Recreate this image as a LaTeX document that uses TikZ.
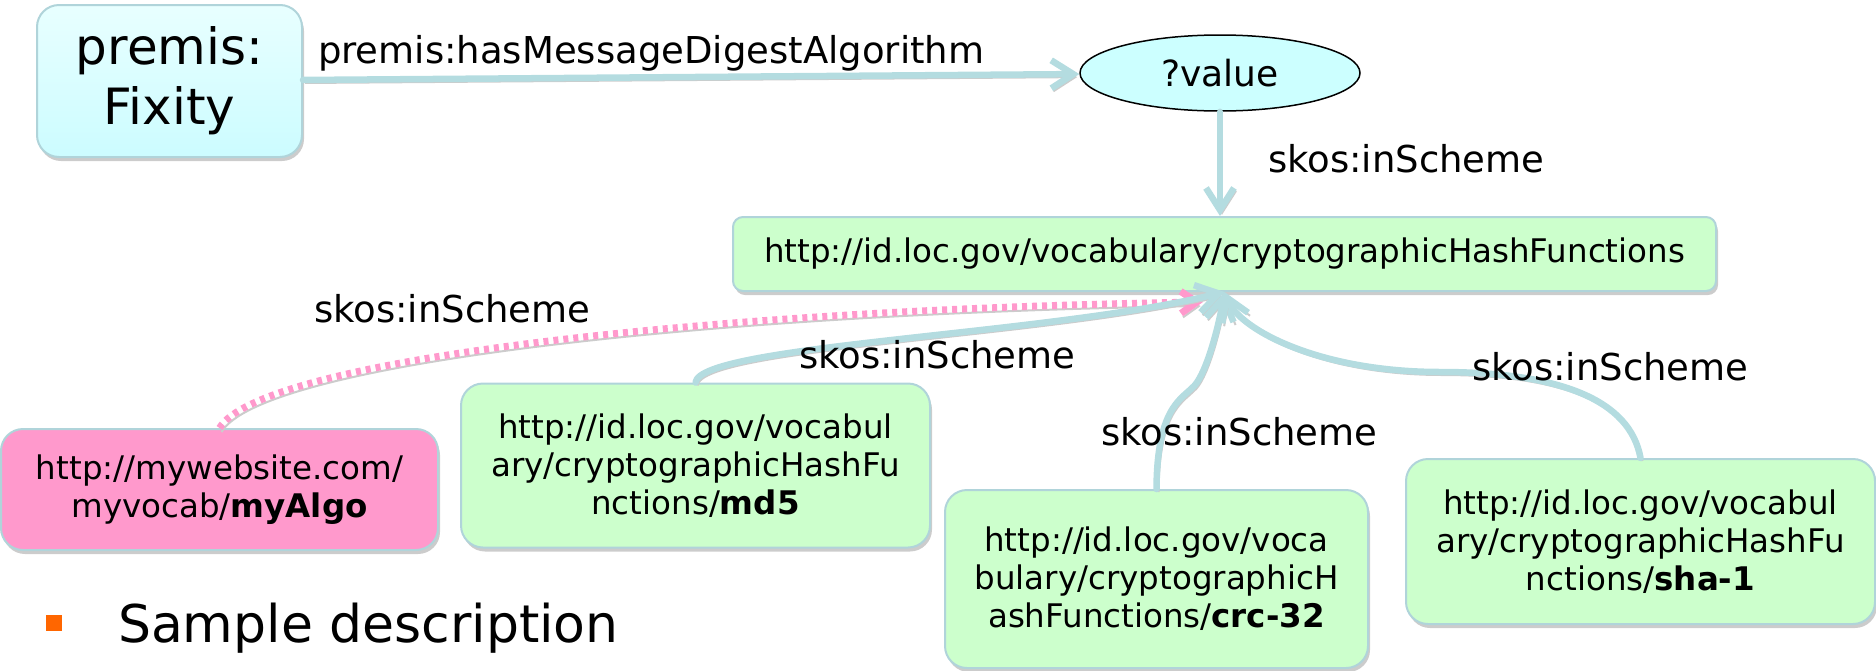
\documentclass[tikz,border=0pt]{standalone}
\usepackage{fontspec}
\setmainfont{DejaVu Sans}
\usepackage{tikz}
\usetikzlibrary{arrows.meta,shapes,shadows,positioning}

\definecolor{linkblue}{HTML}{B4DCE0}
\definecolor{shadowgray}{HTML}{CCCCCC}
\definecolor{edgeblue}{HTML}{B0D4DA}
\definecolor{mint}{HTML}{CCFFCC}
\definecolor{pinkfill}{HTML}{FF99CC}
\definecolor{aquatop}{HTML}{E8FFFF}
\definecolor{aquabot}{HTML}{CCFCFF}
\definecolor{ellfill}{HTML}{CCFFFF}
\definecolor{bulletorange}{HTML}{FF6600}

\begin{document}
\begin{tikzpicture}[x=1pt,y=-1pt,line width=2pt,
  box/.style={rectangle,rounded corners=22pt,draw=edgeblue,fill=mint,align=center,inner sep=0pt,
    font=\fontsize{32.5}{38}\selectfont,
    drop shadow={shadow xshift=2pt,shadow yshift=-4pt,fill=shadowgray,opacity=1}},
  lbl/.style={anchor=base west,inner sep=0pt,font=\fontsize{37}{44}\selectfont},
  link/.style={draw=linkblue,line width=6.5pt,line cap=round,line join=round,
    -{Straight Barb[length=22pt,width=28pt]},
    preaction={draw=shadowgray,transform canvas={shift={(2pt,-3pt)}}}},
  pinklink/.style={draw=pinkfill,line width=7pt,dash pattern=on 5pt off 5pt,
    -{Straight Barb[length=16pt,width=22pt]},
    preaction={draw=shadowgray,transform canvas={shift={(2pt,-4pt)}}}}]

        \useasboundingbox (0,0) rectangle (1876,670);

        % top row
        \node[box,top color=aquatop,bottom color=aquabot,minimum width=265pt,minimum height=152pt,
          font=\fontsize{50}{60}\selectfont] (fixity) at (169.5,81) {premis:\\Fixity};
        \node[ellipse,draw=black,line width=1.5pt,fill=ellfill,minimum width=280pt,minimum height=76pt,
          inner sep=0pt,font=\fontsize{36}{43}\selectfont] (value) at (1220,73) {?value};
        \node[box,rounded corners=10pt,minimum width=983pt,minimum height=74pt] (scheme) at (1224.5,254)
          {http://id.loc.gov/vocabulary/cryptographicHashFunctions};

        % algorithms
        \node[box,fill=pinkfill,minimum width=437pt,minimum height=121pt] (myalgo) at (219.5,489.5)
          {http://mywebsite.com/\\myvocab/\textbf{myAlgo}};
        \node[box,minimum width=469pt,minimum height=164pt] (md5) at (695.5,465.5)
          {http://id.loc.gov/vocabul\\ary/cryptographicHashFu\\nctions/\textbf{md5}};
        \node[box,minimum width=423pt,minimum height=178pt] (crc) at (1156.5,579)
          {http://id.loc.gov/voca\\bulary/cryptographicH\\ashFunctions/\textbf{crc-32}};
        \node[box,minimum width=469pt,minimum height=165pt] (sha) at (1640.5,541.5)
          {http://id.loc.gov/vocabul\\ary/cryptographicHashFu\\nctions/\textbf{sha-1}};

        \coordinate (tip) at (scheme.south);
        \coordinate (pinktip) at (1203,302);

        \draw[link] (fixity) -- (value);
        \draw[link] (value.south) -- (value.south |- scheme.north);
        \draw[pinklink] (myalgo.north) .. controls (260,360) and (700,310) .. (pinktip);
        \draw[link] (md5.north) .. controls (700,345) and (1050,335) .. (tip);
        \draw[link] (crc.north) .. controls (1157,410) and (1180,400) .. (1192,388)
          .. controls (1205,378) and (1218,330) .. (tip);
        \draw[link] (sha.north) .. controls (1630,400) and (1560,372) .. (1440,372)
          .. controls (1320,372) and (1240,330) .. (tip);

        % labels
        \node[lbl] (lhas) at (317,63) {premis:hasMessageDigestAlgorithm};
        \node[lbl] (lvalue) at (1267,172) {skos:inScheme};
        \node[lbl] (lalgo) at (313,322) {skos:inScheme};
        \node[lbl] (lmd5) at (798,368) {skos:inScheme};
        \node[lbl] (lcrc) at (1100,445) {skos:inScheme};
        \node[lbl] (lsha) at (1471,380) {skos:inScheme};

        \node[fill=bulletorange,minimum size=16pt,inner sep=0pt] (bullet) at (54,623) {};
        \node[anchor=base west,inner sep=0pt,font=\fontsize{52}{62}\selectfont] (sample) at (117,642)
          {Sample description};

      \end{tikzpicture}
\end{document}
